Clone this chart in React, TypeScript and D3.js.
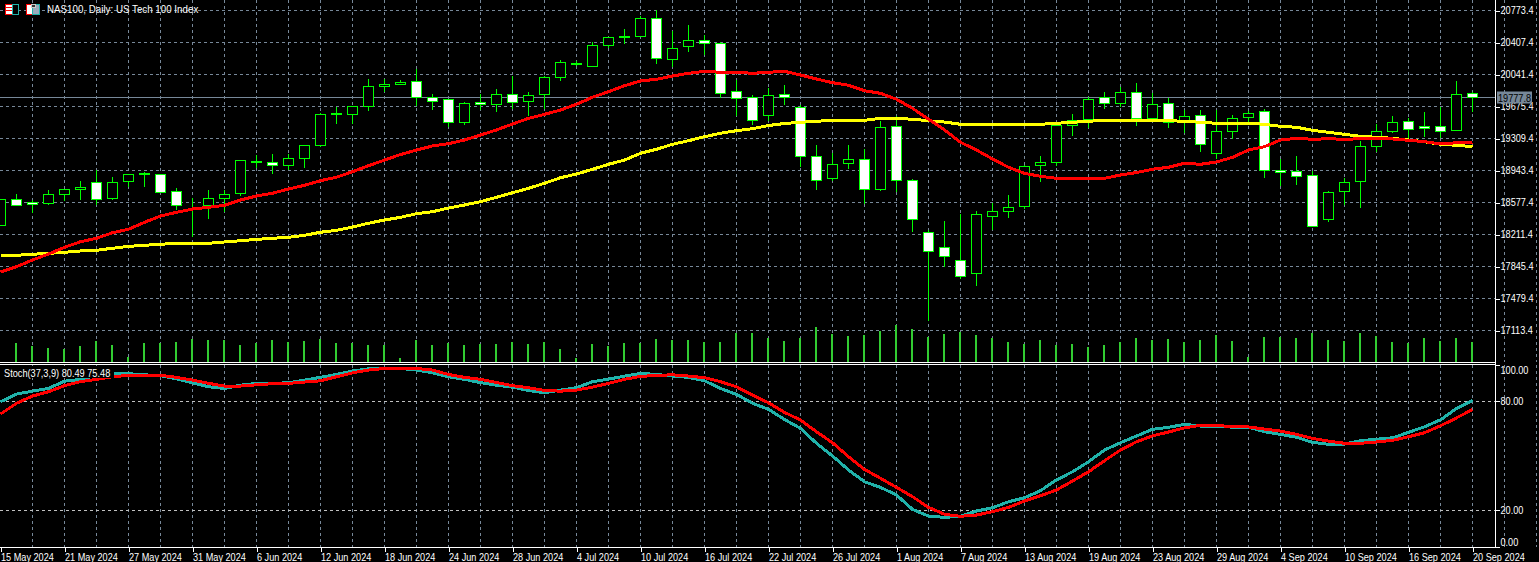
import React, { useEffect, useRef } from 'react';
import * as d3 from 'd3';

const opens = [18312,18617,18572,18568,18667,18724,18804,18621,18815,18903,
  18903,18705,18537,18541,18625,18678,19037,19037,18998,19083,
  19227,19586,19582,19678,19902,19925,19964,19776,19758,19490,
  19723,19696,19815,19735,19810,20005,20161,20131,20375,20470,
  20474,20684,20211,20364,20433,20398,19849,19781,19570,19818,
  19666,19106,18850,19021,19072,18724,19449,18831,18237,18065,
  17916,17763,18415,18472,18529,19006,19033,19460,19521,19776,
  19707,19838,19536,19712,19495,19575,19140,19392,19547,19620,
  18946,18934,18888,18381,18701,18820,19220,19387,19506,19449,
  19449,19403,19826];
const highs = [18620,18675,18606,18720,18732,18823,18949,18869,18903,18930,
  18903,18743,18625,18720,18720,19063,19121,19132,19129,19232,
  19605,19670,19678,19987,19990,19979,20101,19815,19758,19727,
  19815,19876,20024,19838,20021,20204,20192,20410,20467,20562,
  20710,20779,20539,20608,20497,20410,19979,19807,19884,19921,
  19689,19235,19144,19235,19186,19510,19570,18846,18263,18366,
  18442,18480,18568,18663,19003,19109,19472,19590,19781,19841,
  19898,19941,19833,19776,19632,19635,19635,19575,19620,19643,
  19072,19106,18934,18705,18858,19277,19472,19567,19544,19612,
  19673,19967,19841];
const lows = [18309,18538,18461,18549,18598,18606,18552,18606,18758,18758,
  18689,18492,18186,18389,18472,18655,18969,18907,18949,18975,
  19212,19475,19475,19624,19841,19925,19678,19639,19444,19467,
  19639,19616,19650,19570,19650,19967,20142,20131,20341,20394,
  20474,20165,20131,20302,20268,19776,19570,19467,19513,19693,
  18987,18720,18823,18961,18564,18712,18701,18240,17222,17843,
  17702,17622,18263,18400,18500,18815,18995,19341,19433,19650,
  19673,19456,19518,19433,19376,19158,19075,19307,19460,18861,
  18766,18778,18305,18358,18552,18518,19158,19369,19304,19323,
  19312,19403,19609];
const closes = [18614,18541,18549,18671,18728,18751,18609,18808,18900,18907,
  18689,18541,18531,18625,18671,19060,19044,19003,19083,19232,
  19586,19593,19678,19906,19929,19952,19781,19730,19490,19712,
  19696,19815,19723,19803,20009,20181,20168,20375,20467,20477,
  20684,20222,20341,20433,20398,19822,19765,19513,19803,19784,
  19101,18827,19014,19072,18724,19438,18827,18381,18015,17957,
  17729,18442,18477,18522,18991,19037,19460,19518,19758,19712,
  19838,19536,19701,19487,19563,19243,19392,19540,19598,18946,
  18923,18872,18305,18694,18808,19220,19392,19495,19415,19426,
  19392,19815,19777.8];

const volumes = [0,19,16,14,13,16,21,17,5,19,
  19,20,23,22,22,17,19,22,20,21,
  23,19,19,17,17,4,22,17,19,17,
  18,18,20,18,20,13,4,18,16,19,
  19,23,22,22,20,20,29,29,24,21,
  24,35,28,26,27,31,37,33,25,28,
  30,27,24,20,18,22,17,18,15,17,
  20,24,22,23,20,22,27,21,5,25,
  25,24,29,22,21,29,26,20,19,24,
  21,24,20];

const maFast = [17783,17843,17920,17988,18065,18129,18168,18232,18271,18351,
  18423,18465,18503,18522,18545,18606,18652,18683,18732,18774,
  18827,18866,18930,18998,19063,19126,19178,19224,19250,19292,
  19349,19407,19475,19540,19586,19635,19701,19781,19845,19913,
  19967,19987,20024,20055,20078,20067,20067,20055,20067,20078,
  20036,19990,19948,19918,19856,19826,19758,19655,19529,19407,
  19266,19178,19075,18980,18911,18877,18854,18854,18854,18854,
  18892,18920,18958,18980,19026,19014,19041,19094,19178,19216,
  19292,19312,19300,19307,19300,19307,19304,19304,19289,19273,
  19247,19261,19266];
const maSlow = [17974,17974,17985,17996,18008,18023,18031,18054,18076,18088,
  18099,18111,18111,18111,18126,18140,18156,18168,18179,18202,
  18237,18259,18297,18340,18377,18408,18449,18472,18514,18549,
  18587,18637,18689,18740,18797,18861,18903,18957,19014,19063,
  19140,19186,19243,19284,19330,19369,19399,19421,19458,19481,
  19495,19506,19518,19518,19518,19540,19540,19529,19513,19498,
  19472,19472,19472,19472,19472,19472,19483,19495,19506,19518,
  19518,19518,19518,19513,19506,19495,19483,19483,19483,19472,
  19449,19438,19403,19380,19357,19335,19323,19312,19292,19273,
  19243,19232,19216];

const stochMain = [79.75,84.0,85.6,87.1,91.1,92.1,94.4,95.5,95.2,94.6,
  94.1,92.4,90.2,88.0,87.1,88.9,89.9,89.9,90.2,91.7,
  93.2,94.8,96.7,97.9,98.1,98.1,97.2,95.7,93.5,92.1,
  90.3,88.9,87.8,86.0,84.7,86.2,87.5,90.8,92.2,93.9,
  95.4,94.8,93.9,93.2,91.3,87.1,83.8,78.9,75.6,70.0,
  65.1,56.9,49.9,42.2,35.7,32.6,28.4,20.5,16.8,16.1,
  16.7,19.6,21.4,24.7,26.9,30.8,36.7,41.2,46.7,53.2,
  57.2,60.9,64.6,65.7,67.3,66.4,66.2,65.8,65.8,63.2,
  61.8,60.2,57.4,56.3,56.5,58.3,59.1,59.9,62.9,66.0,
  69.8,76.1,80.49];
const stochSignal = [73.0,78.9,82.9,85.3,88.6,90.8,92.1,93.5,94.3,94.3,
  94.3,93.2,91.7,89.9,88.4,88.4,89.1,89.7,89.9,90.6,
  91.3,93.5,95.7,97.2,98.1,98.1,98.1,97.2,94.8,93.2,
  92.1,90.4,88.6,87.5,86.0,85.6,86.2,87.8,89.9,92.1,
  93.7,94.3,94.6,93.9,93.0,90.8,88.0,83.4,79.2,73.9,
  69.7,63.2,57.2,49.5,42.5,37.6,32.6,27.5,21.6,17.8,
  16.7,17.4,19.2,21.6,25.1,28.0,31.2,36.1,41.2,47.3,
  53.2,57.7,61.0,63.1,65.4,66.8,66.7,66.1,65.9,64.7,
  63.6,61.8,59.6,58.1,56.9,56.9,57.6,58.5,60.5,62.7,
  66.5,70.9,75.48];

const priceTicks = [20773.4,20407.4,20041.4,19675.4,19309.4,18943.4,18577.4,18211.4,17845.4,17479.4,17113.4];
const stochTicks = [100,80,20,0];
const dateLabels = ['15 May 2024','21 May 2024','27 May 2024','31 May 2024','6 Jun 2024','12 Jun 2024','18 Jun 2024','24 Jun 2024',
  '28 Jun 2024','4 Jul 2024','10 Jul 2024','16 Jul 2024','22 Jul 2024','26 Jul 2024','1 Aug 2024','7 Aug 2024',
  '13 Aug 2024','19 Aug 2024','23 Aug 2024','29 Aug 2024','4 Sep 2024','10 Sep 2024','16 Sep 2024','20 Sep 2024'];
const lastPrice = 19777.8;

const width = 1539;
const height = 562;
const axisX = 1495.5;
const fontFamily = '"Liberation Sans", sans-serif';
const gridColor = '#778899';

// The terminal font is narrower than Liberation Sans, so squeeze the glyphs
const squeeze = (sel: d3.Selection<any, any, any, any>, k: number) => {
  sel.each(function () {
    const node = this as SVGTextElement;
    node.setAttribute('textLength', String(node.getComputedTextLength() * k));
    node.setAttribute('lengthAdjust', 'spacingAndGlyphs');
  });
};

const App: React.FC = () => {
  const svgRef = useRef<SVGSVGElement | null>(null);

  useEffect(() => {
    if (!svgRef.current) return;
    document.body.style.margin = '0';
    document.body.style.background = '#000';

    const svg = d3.select(svgRef.current);
    svg.selectAll('*').remove();

    const count = closes.length;
    const x = d3.scaleLinear().domain([0, count - 1]).range([0.5, 16 * (count - 1) + 0.5]);
    const yPrice = d3.scaleLinear().domain([20773.4, 17113.4]).range([10.5, 330.5]);
    const yVolume = d3.scaleLinear().domain([0, 40]).range([362, 322]);
    const yStoch = d3.scaleLinear().domain([0, 100]).range([546.6, 365]);
    const snap = (v: number) => Math.floor(v) + 0.5;
    const indices = d3.range(count);

    // Background grid
    const grid = svg.append('g').attr('shape-rendering', 'crispEdges')
      .attr('stroke', gridColor).attr('stroke-dasharray', '3 3');
    const gridX = d3.range(2, count + 4, 2);
    grid.selectAll('.vmain').data(gridX).enter().append('line')
      .attr('x1', d => x(d)).attr('x2', d => x(d)).attr('y1', 0).attr('y2', 362);
    grid.selectAll('.vstoch').data(gridX).enter().append('line')
      .attr('x1', d => x(d)).attr('x2', d => x(d)).attr('y1', 365).attr('y2', 547);
    grid.selectAll('.hmain').data(priceTicks).enter().append('line')
      .attr('x1', 0).attr('x2', axisX).attr('y1', d => yPrice(d)).attr('y2', d => yPrice(d));
    grid.selectAll('.hstoch').data([80, 20]).enter().append('line')
      .attr('x1', 0).attr('x2', axisX)
      .attr('y1', d => snap(yStoch(d))).attr('y2', d => snap(yStoch(d)))
      .attr('stroke', '#c0c0c0');

    // Last price line
    svg.append('line').attr('shape-rendering', 'crispEdges')
      .attr('x1', 0).attr('x2', axisX)
      .attr('y1', snap(yPrice(lastPrice))).attr('y2', snap(yPrice(lastPrice)))
      .attr('stroke', gridColor);

    // Volume bars
    svg.append('g').attr('shape-rendering', 'crispEdges')
      .selectAll('rect').data(indices.filter(i => volumes[i] > 0)).enter().append('rect')
      .attr('x', i => x(i) - 1.5).attr('width', 2)
      .attr('y', i => yVolume(volumes[i])).attr('height', i => 362 - yVolume(volumes[i]))
      .attr('fill', '#32cd32');

    // Candles
    const candles = svg.append('g').attr('shape-rendering', 'crispEdges');
    candles.selectAll('line').data(indices).enter().append('line')
      .attr('x1', i => x(i)).attr('x2', i => x(i))
      .attr('y1', i => yPrice(highs[i])).attr('y2', i => yPrice(lows[i]))
      .attr('stroke', '#00ff00');
    candles.selectAll('rect').data(indices).enter().append('rect')
      .attr('x', i => x(i) - 5).attr('width', 10)
      .attr('y', i => snap(yPrice(Math.max(opens[i], closes[i]))))
      .attr('height', i => snap(yPrice(Math.min(opens[i], closes[i]))) - snap(yPrice(Math.max(opens[i], closes[i]))))
      .attr('fill', i => (closes[i] >= opens[i] ? '#000' : '#fff'))
      .attr('stroke', '#00ff00');

    // Moving averages, aliased like the terminal draws them
    const priceLine = d3.line<number>().x((_, i) => x(i)).y(d => yPrice(d));
    const stochLine = d3.line<number>().x((_, i) => x(i)).y(d => yStoch(d));
    const addLine = (values: number[], gen: d3.Line<number>, color: string) => svg.append('path')
      .datum(values).attr('d', gen).attr('fill', 'none')
      .attr('stroke', color).attr('stroke-width', 3)
      .attr('shape-rendering', 'crispEdges');
    addLine(maSlow, priceLine, '#ffff00');
    addLine(maFast, priceLine, '#ff0000');
    addLine(stochMain, stochLine, '#20b2aa');
    addLine(stochSignal, stochLine, '#ff0000');

    // Stochastic label sits on a black box that hides the lines
    svg.append('rect').attr('x', 0).attr('y', 366).attr('width', 114).attr('height', 12).attr('fill', '#000');
    svg.append('text').attr('x', 4).attr('y', 377)
      .attr('fill', '#fff').attr('font-family', fontFamily).attr('font-size', 10.5)
      .text('Stoch(37,3,9) 80.49 75.48')
      .call(squeeze as any, 0.875);

    // Pane frame
    const frame = svg.append('g').attr('shape-rendering', 'crispEdges').attr('stroke', '#fff');
    frame.append('line').attr('x1', 0).attr('x2', axisX).attr('y1', 362.5).attr('y2', 362.5);
    frame.append('line').attr('x1', 0).attr('x2', axisX).attr('y1', 364.5).attr('y2', 364.5);
    frame.append('line').attr('x1', 0).attr('x2', axisX).attr('y1', 547.5).attr('y2', 547.5);
    frame.append('line').attr('x1', axisX).attr('x2', axisX).attr('y1', 0).attr('y2', 548);

    // Axes
    const styleAxis = (g: d3.Selection<SVGGElement, unknown, null, undefined>) => {
      g.select('.domain').remove();
      g.selectAll('line').attr('stroke', '#fff').attr('shape-rendering', 'crispEdges');
      g.selectAll('text').attr('fill', '#fff').attr('font-family', fontFamily).attr('font-size', 10.5);
    };

    const priceAxis = svg.append('g').attr('transform', `translate(${axisX},0)`)
      .call(d3.axisRight(yPrice).tickValues(priceTicks).tickSize(4).tickPadding(1).tickFormat(d3.format('.1f') as any))
      .call(styleAxis as any);
    squeeze(priceAxis.selectAll('text'), 0.87);

    const stochAxis = svg.append('g').attr('transform', `translate(${axisX},0)`)
      .call(d3.axisRight(yStoch).tickValues(stochTicks).tickSize(4).tickPadding(1).tickFormat(d3.format('.2f') as any))
      .call(styleAxis as any);
    // End labels are pulled inside the pane
    stochAxis.selectAll<SVGTextElement, number>('text')
      .attr('dy', d => (d === 100 ? '0.8em' : d === 0 ? '-0.1em' : '0.32em'));
    squeeze(stochAxis.selectAll('text'), 0.87);

    const timeIndex = d3.range(0, count, 4);
    const xLabels = d3.scalePoint<string>().domain(dateLabels).range([x(0), x(timeIndex[timeIndex.length - 1])]);
    const timeAxis = svg.append('g').attr('transform', 'translate(0,547.5)')
      .call(d3.axisBottom(xLabels).tickSize(4).tickPadding(2))
      .call(styleAxis as any);
    timeAxis.selectAll('text').attr('text-anchor', 'start');
    squeeze(timeAxis.selectAll('text'), 0.87);

    // Last price tag
    const tagY = snap(yPrice(lastPrice));
    svg.append('rect').attr('x', 1497).attr('y', tagY - 6).attr('width', 35).attr('height', 12).attr('fill', gridColor);
    svg.append('text').attr('x', 1498).attr('y', tagY + 4)
      .attr('fill', '#000').attr('font-family', fontFamily).attr('font-size', 10.5)
      .text(d3.format('.1f')(lastPrice))
      .call(squeeze as any, 0.87);

    // Title with the two little terminal icons
    const icons = svg.append('g').attr('shape-rendering', 'crispEdges');
    icons.append('rect').attr('x', 5.5).attr('y', 4.5).attr('width', 7).attr('height', 10).attr('fill', '#fff').attr('stroke', '#ff0000');
    icons.append('rect').attr('x', 12.5).attr('y', 4.5).attr('width', 6).attr('height', 10).attr('fill', '#000').attr('stroke', '#20b2aa');
    icons.append('line').attr('x1', 6).attr('x2', 12).attr('y1', 7.5).attr('y2', 7.5).attr('stroke', '#ff0000');
    icons.append('line').attr('x1', 6).attr('x2', 12).attr('y1', 10.5).attr('y2', 10.5).attr('stroke', '#ff0000');
    icons.append('rect').attr('x', 26.5).attr('y', 4.5).attr('width', 6).attr('height', 10).attr('fill', '#fff').attr('stroke', '#ff0000');
    icons.append('rect').attr('x', 32.5).attr('y', 4.5).attr('width', 7).attr('height', 10).attr('fill', '#9ab').attr('stroke', '#20b2aa');
    icons.append('rect').attr('x', 31).attr('y', 4).attr('width', 4).attr('height', 3).attr('fill', '#333').attr('stroke', '#ccc');
    svg.append('text').attr('x', 47).attr('y', 13)
      .attr('fill', '#fff').attr('font-family', fontFamily).attr('font-size', 10.5)
      .text('NAS100, Daily:  US Tech 100 Index')
      .call(squeeze as any, 0.93);
  }, []);

  return (
    <svg
      ref={svgRef}
      width={width}
      height={height}
      style={{ position: 'absolute', left: 0, top: 0, display: 'block', background: '#000' }}
    />
  );
};

export default App;
